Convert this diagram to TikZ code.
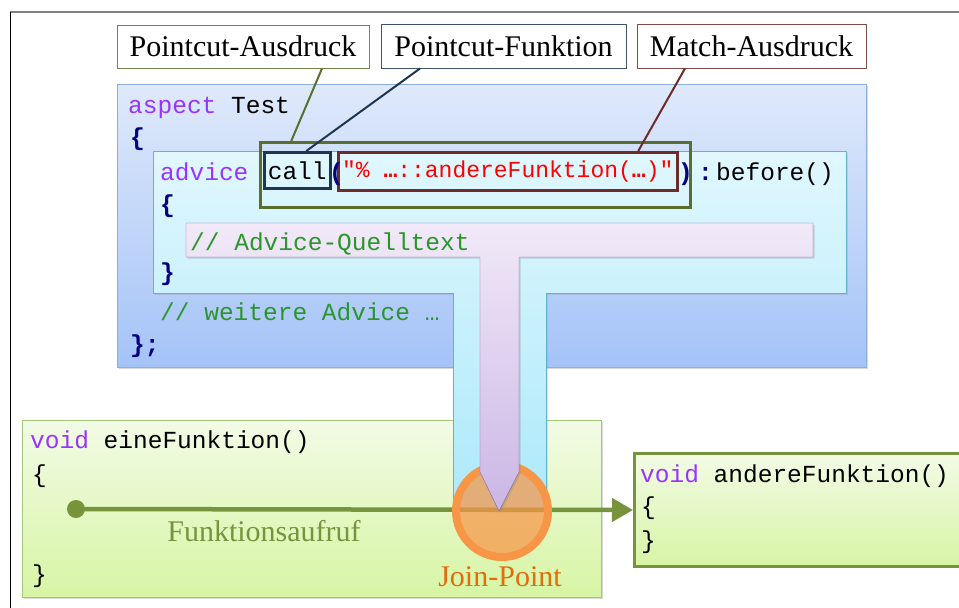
\documentclass[tikz,border=0pt]{standalone}
\usepackage{fontspec}
\setmainfont{Liberation Serif}
\setmonofont{Liberation Mono}
\usetikzlibrary{calc,shadows,arrows.meta}

\definecolor{kw}{HTML}{9933FF}
\definecolor{navy}{HTML}{000080}
\definecolor{cmt}{HTML}{2A962A}
\definecolor{pcgreen}{HTML}{5A6E2E}
\definecolor{callnavy}{HTML}{1F3550}
\definecolor{matchred}{HTML}{6E2B29}
\definecolor{aspecttop}{HTML}{DFE9FB}
\definecolor{aspectbot}{HTML}{A4C3F7}
\definecolor{aspectline}{HTML}{8DAEDC}
\definecolor{cyantop}{HTML}{E0F7FD}
\definecolor{cyanbot}{HTML}{ADE9FB}
\definecolor{cyanline}{HTML}{5DB6CF}
\definecolor{ttop}{HTML}{F1E9F8}
\definecolor{tbot}{HTML}{CBB6E5}
\definecolor{tline}{HTML}{8064A2}
\definecolor{greentop}{HTML}{F2FBE6}
\definecolor{greenbot}{HTML}{D7F5A4}
\definecolor{greenline}{HTML}{A5C878}
\definecolor{callgreen}{HTML}{77933C}
\definecolor{jporange}{HTML}{F79646}
\definecolor{jptext}{HTML}{E46C0A}

\newcommand\brc[1]{\textcolor{navy}{\bfseries #1}}

\begin{document}
\begin{tikzpicture}[x=1pt,y=-1pt,
  namebox/.style={draw,fill=white,line width=1pt,inner sep=0pt,
    font=\fontsize{30}{34}\selectfont},
  code/.style={font=\ttfamily\fontsize{24.5}{28}\selectfont,anchor=base west,inner sep=0pt},
  markbox/.style={draw,line width=2.5pt,inner sep=0pt},
  soft/.style={drop shadow={opacity=0.3,shadow xshift=1.5pt,shadow yshift=-1.5pt}}]
  \useasboundingbox (0,0) rectangle (959,608);
  % page frame
  \draw[gray,line width=1.2pt] (10,12) -- (959,12);
  \draw[line width=1pt] (10,12) -- (10,608);

  % captions on top
  \node[namebox,draw=pcgreen!85,minimum width=252pt,minimum height=43pt] (ausdruck) at (243,46.5) {Pointcut-Ausdruck};
  \node[namebox,draw=callnavy!85,minimum width=245pt,minimum height=44pt] (funktion) at (503.5,46) {Pointcut-Funktion};
  \node[namebox,draw=matchred!85,minimum width=229pt,minimum height=44pt] (match) at (751.5,46) {Match-Ausdruck};

  % aspect, caller and advice
  \draw[soft,draw=aspectline,top color=aspecttop,bottom color=aspectbot] (117,84) rectangle (866,367);
  \draw[soft,draw=greenline,top color=greentop,bottom color=greenbot] (22,420) rectangle (601,597);
  \draw[soft,draw=cyanline,top color=cyantop,bottom color=cyanbot]
    (153,151) -- (846,151) -- (846,293) -- (546,293) -- (546,509) -- (453,509) -- (453,293) -- (153,293) -- cycle;

  % pointcut parts
  \node[markbox,draw=pcgreen,minimum width=430pt,minimum height=65pt,anchor=north west] (pc) at (259,141) {};
  \node[markbox,draw=callnavy,minimum width=66pt,minimum height=36pt,anchor=north west,
    font=\ttfamily\fontsize{24.5}{28}\selectfont] (call) at (263,151) {call};
  \node[markbox,draw=matchred,minimum width=339pt,minimum height=38pt,anchor=north west,
    font=\ttfamily\fontsize{23}{28}\selectfont,text=red] (expr) at (337,151)
    {"\% \textbf{…}::andereFunktion(\textbf{…})"};

  \draw[pcgreen,line width=2pt] ([xshift=79pt]ausdruck.south) -- ([xshift=-184pt]pc.north);
  \draw[callnavy,line width=2pt] ([xshift=-83.5pt]funktion.south) -- ([xshift=9pt]call.north);
  \draw[matchred,line width=2pt] ([xshift=-66.5pt]match.south) -- ([xshift=130.5pt]expr.north);

  % aspect code
  \node[code] at (128,113) {\textcolor{kw}{aspect} Test};
  \node[code] at (130,145) {\brc{\{}};
  \node[code] at (160,180) {\textcolor{kw}{advice}};
  \node[code] at (329,180) {\brc{(}};
  \node[code] at (678,180) {\brc{)}};
  \node[code] at (698,180) {\brc{:}};
  \node[code] at (716,180) {before()};
  \node[code] at (160,212) {\brc{\{}};
  \node[code] at (160,280) {\brc{\}}};
  \node[code,text=cmt] at (160,320) {// weitere Advice …};
  \node[code] at (130,352) {\brc{\};}};

  % caller code
  \node[code] at (30,448) {\textcolor{kw}{void} eineFunktion()};
  \node[code] at (32,482) {\{};
  \node[code] at (32,582) {\}};
  \node[font=\fontsize{30}{34}\selectfont,text=callgreen] (aufruf) at (264,531) {Funktionsaufruf};

  % callee
  \node[soft,draw=callgreen,line width=3pt,top color=greentop,bottom color=greenbot,
    minimum width=342pt,minimum height=113pt,anchor=north west] (andere) at (633,452) {};
  \node[code] at (640,482) {\textcolor{kw}{void} andereFunktion()};
  \node[code] at (641,514) {\{};
  \node[code] at (641,548) {\}};

  % call and join point
  \node[circle,fill=callgreen,minimum size=18pt,inner sep=0pt] (start) at (76,509) {};
  \draw[callgreen,line width=4.5pt,-{Triangle[length=21pt,width=23pt]}] (start.center) -- (andere.west);
  \node[circle,draw=jporange,line width=8pt,fill=jporange,fill opacity=0.72,
    minimum size=92pt,inner sep=0pt] (jp) at (502,511) {};
  \node[font=\fontsize{30}{34}\selectfont,text=jptext] (jplabel) at (500,577) {Join-Point};

  % advice body woven in
  \draw[soft,draw=tline,top color=ttop,bottom color=tbot]
    (186,223) -- (813,223) -- (813,257) -- (519,257) -- (519,472) -- (499,511) -- (480,472) -- (480,257) -- (186,257) -- cycle;
  \node[code,text=cmt] at (190,250) {// Advice-Quelltext};
\end{tikzpicture}
\end{document}
